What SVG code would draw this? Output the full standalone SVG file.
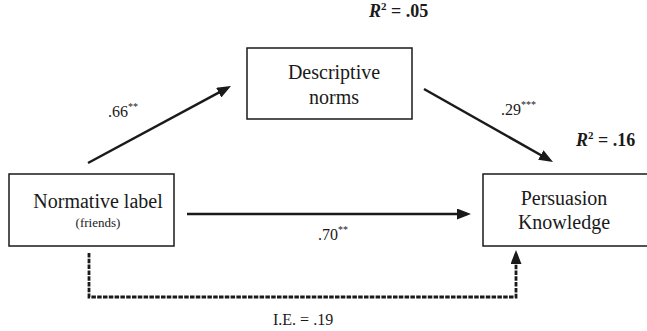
<svg xmlns="http://www.w3.org/2000/svg" width="647" height="331" viewBox="0 0 647 331">
<style>
.box{fill:#fff;stroke:#1a1a1a;stroke-width:1.5}
text{font-family:'Liberation Serif','DejaVu Serif',serif;fill:#1a1a1a}
.t{text-anchor:middle}
.lab{font-size:16px}
.sup{font-size:10px}
.r2{font-size:18px;font-weight:bold}
.conn{fill:none;stroke:#1a1a1a;stroke-width:2.5}
.dash{stroke-width:2.8;stroke-dasharray:4.5 1.3}
</style>
<defs>
<marker id="ah" viewBox="0 0 14 11" refX="10" refY="5.5" markerWidth="14" markerHeight="11" markerUnits="userSpaceOnUse" orient="auto">
<path d="M0,0 L14,5.5 L0,11 Z" fill="#1a1a1a"/>
</marker>
</defs>
<rect width="647" height="331" fill="#fff"/>
<g id="connectors">
<line class="conn" x1="88" y1="163" x2="227.5" y2="87.9" marker-end="url(#ah)"/>
<line class="conn" x1="424" y1="89" x2="549.5" y2="160" marker-end="url(#ah)"/>
<line class="conn" x1="187" y1="214" x2="467" y2="214" marker-end="url(#ah)"/>
<path class="conn dash" d="M89,253 V297 H516 V254" marker-end="url(#ah)"/>
<text class="lab" x="108" y="117">.66<tspan class="sup" dy="-7">**</tspan></text>
<text class="lab" x="501" y="115">.29<tspan class="sup" dy="-7">***</tspan></text>
<text class="lab" x="318" y="240">.70<tspan class="sup" dy="-7">**</tspan></text>
<text class="lab" x="273" y="325">I.E. = .19</text>
</g>
<g id="normative">
<rect class="box" x="9" y="174" width="165" height="72"/>
<text class="t" x="98" y="208" font-size="20">Normative label</text>
<text class="t" x="98" y="227" font-size="13">(friends)</text>
</g>
<g id="descriptive">
<rect class="box" x="247" y="48" width="165" height="71"/>
<text class="t" x="334" y="79" font-size="20">Descriptive</text>
<text class="t" x="334" y="104" font-size="20">norms</text>
<text class="r2" x="369" y="17"><tspan font-style="italic">R</tspan><tspan font-size="11" dy="-7">2</tspan><tspan dy="7"> = .05</tspan></text>
</g>
<g id="persuasion">
<rect class="box" x="483" y="174" width="180" height="72"/>
<text class="t" x="564" y="205" font-size="20">Persuasion</text>
<text class="t" x="564" y="229" font-size="20">Knowledge</text>
<text class="r2" x="576" y="146"><tspan font-style="italic">R</tspan><tspan font-size="11" dy="-7">2</tspan><tspan dy="7"> = .16</tspan></text>
</g>
</svg>
